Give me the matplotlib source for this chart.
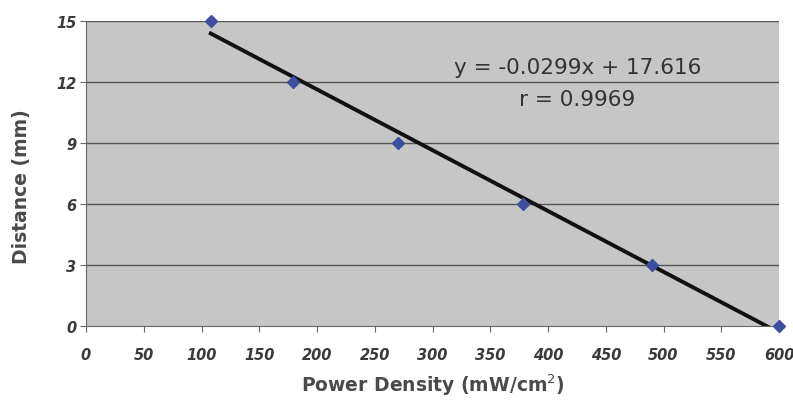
import matplotlib.pyplot as plt
import numpy as np

plt.rcParams['font.family'] = ['DejaVu Sans']

# measured data
power = [108, 179, 270, 378, 490, 600]
distance = [15, 12, 9, 6, 3, 0]

slope = -0.0299
intercept = 17.616
r_value = 0.9969

xticks = list(range(0, 601, 50))
yticks = [0, 3, 6, 9, 12, 15]

fig = plt.figure(figsize=(7.93, 4.02), dpi=100)
ax = fig.add_axes([86 / 793, 1 - 327 / 402, (779 - 86) / 793, (327 - 22) / 402])
ax.set_facecolor('#c6c6c6')

for yt in yticks[1:]:
    ax.axhline(yt, color='#555555', lw=1.0, zorder=1)

xfit = np.array([min(power), max(power)])
ax.plot(xfit, slope * xfit + intercept, color='#111111', lw=2.8, zorder=2)
ax.plot(power, distance, 'D', color='#3c4fa0', ms=6, zorder=3, clip_on=False)

ax.set_xlim(0, 600)
ax.set_ylim(0, 15)
ax.set_xticks(xticks)
ax.set_yticks(yticks)
ax.set_xticklabels([str(t) for t in xticks], fontstyle='italic', fontweight='bold',
                   color='#3a3a3a', fontsize=10.5)
ax.set_yticklabels([str(t) for t in yticks], fontweight='bold', fontstyle='italic',
                   color='#3a3a3a', fontsize=10.5)
ax.tick_params(axis='x', length=4, color='#666666', pad=11)
ax.tick_params(axis='y', length=4, color='#666666', pad=3)

for s in ['top', 'right']:
    ax.spines[s].set_visible(False)
for s in ['left', 'bottom']:
    ax.spines[s].set_color('#666666')

ax.set_xlabel('Power Density (mW/cm$^2$)', fontsize=13.5, fontweight='bold',
              color='#4a4a4a', labelpad=7)
ax.set_ylabel('Distance (mm)', fontsize=13.5, fontweight='bold', color='#4a4a4a')
ax.yaxis.set_label_coords(-0.079, 0.46)

ax.text(0.709, 0.848, 'y = -0.0299x + 17.616', transform=ax.transAxes,
        ha='center', va='center', fontsize=15.5, color='#333333')
ax.text(0.709, 0.743, 'r = %.4f' % r_value, transform=ax.transAxes,
        ha='center', va='center', fontsize=15.5, color='#333333')

fig.savefig('out.png', dpi=100)
